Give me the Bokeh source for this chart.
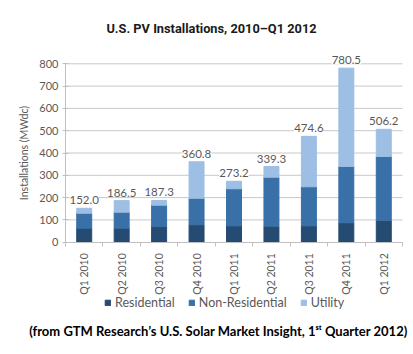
from bokeh.plotting import figure
from bokeh.models import (ColumnDataSource, FixedTicker, LabelSet, Label, Legend, LegendItem, Range1d)
from bokeh.core.properties import value
from bokeh.embed import file_html
from bokeh.resources import INLINE

quarters = ["Q1 2010", "Q2 2010", "Q3 2010", "Q4 2010", "Q1 2011", "Q2 2011", "Q3 2011", "Q4 2011", "Q1 2012"]
residential = [63.0, 63.0, 70.0, 78.0, 73.0, 72.0, 73.0, 87.0, 97.0]
non_residential = [67.0, 71.6, 96.0, 119.0, 166.5, 219.6, 175.5, 252.6, 287.5]
utility = [22.0, 51.9, 21.3, 163.8, 33.7, 47.7, 226.1, 440.9, 121.7]
totals = [152.0, 186.5, 187.3, 360.8, 273.2, 339.3, 474.6, 780.5, 506.2]
y_ticks = [0, 100, 200, 300, 400, 500, 600, 700, 800]
series_names = ["Residential", "Non-Residential", "Utility"]

xs = [i + 0.5 for i in range(len(quarters))]
top2 = [r + n for r, n in zip(residential, non_residential)]
top3 = [t + u for t, u in zip(top2, utility)]

src = ColumnDataSource(dict(x=xs, r=residential, t2=top2, t3=top3,
                            tot=totals, lab=["%.1f" % v for v in totals]))

COLORS = ["#254b73", "#3870a7", "#9dbfe3"]
GRAY = "#595959"

# whole canvas is the frame; data origin sits at (65, 241.7) px from top-left
W, H = 413, 354
X0, X1 = 65.0, 402.0          # px of x = 0 and x = 9
Y0, Y800 = 241.7, 63.3        # px (from top) of y = 0 and y = 800
sx = (X1 - X0) / len(quarters)
sy = (Y0 - Y800) / 800.0

p = figure(width=W, height=H, output_backend="svg", toolbar_location=None,
           x_range=Range1d(-X0 / sx, len(quarters) + (W - X1) / sx),
           y_range=Range1d(-(H - Y0) / sy, Y0 / sy),
           min_border_left=0, min_border_right=0, min_border_top=0, min_border_bottom=0)
p.outline_line_color = None
p.background_fill_color = "white"
p.border_fill_color = "white"
p.xgrid.grid_line_color = None
p.ygrid.grid_line_color = None

# horizontal grid lines limited to the plotting area
grid_src = ColumnDataSource(dict(y=y_ticks[1:], x0=[0] * 8, x1=[len(quarters)] * 8))
p.segment(x0="x0", x1="x1", y0="y", y1="y", color="#c8c8c8", line_width=1, source=grid_src)

r1 = p.vbar(x="x", bottom=0, top="r", width=0.4, color=COLORS[0], source=src)
r2 = p.vbar(x="x", bottom="r", top="t2", width=0.4, color=COLORS[1], source=src)
r3 = p.vbar(x="x", bottom="t2", top="t3", width=0.4, color=COLORS[2], source=src)

# y axis
p.yaxis.fixed_location = 0
p.yaxis.ticker = FixedTicker(ticks=y_ticks)
p.yaxis.bounds = (0, 800)
p.yaxis.axis_line_color = "#bfbfbf"
p.yaxis.major_tick_line_color = "#bfbfbf"
p.yaxis.major_tick_in = 3
p.yaxis.major_tick_out = 3
p.yaxis.minor_tick_line_color = None
p.yaxis.major_label_text_font = "Lato"
p.yaxis.major_label_text_font_size = "11px"
p.yaxis.major_label_text_color = GRAY
p.yaxis.major_label_standoff = 4
p.yaxis.axis_label = "Installations (MWdc)"
p.yaxis.axis_label_text_font = "Lato"
p.yaxis.axis_label_text_font_style = "normal"
p.yaxis.axis_label_text_font_size = "10.5px"
p.yaxis.axis_label_text_color = GRAY
p.yaxis.axis_label_standoff = 6

# x axis
p.xaxis.fixed_location = 0
p.xaxis.bounds = (0, len(quarters))
p.xaxis.ticker = FixedTicker(ticks=xs, minor_ticks=list(range(len(quarters) + 1)))
p.xaxis.major_label_overrides = {x: q for x, q in zip(xs, quarters)}
p.xaxis.major_label_orientation = 3.14159265 / 2
p.xaxis.major_tick_line_color = None
p.xaxis.minor_tick_line_color = "#bfbfbf"
p.xaxis.minor_tick_out = 4
p.xaxis.minor_tick_in = 0
p.xaxis.axis_line_color = "#bfbfbf"
p.xaxis.major_label_text_font = "Lato"
p.xaxis.major_label_text_font_size = "10.5px"
p.xaxis.major_label_text_color = GRAY
p.xaxis.major_label_standoff = 5

labels = LabelSet(x="x", y="tot", text="lab", source=src, y_offset=4,
                  text_align="center", text_baseline="bottom",
                  text_font=value("Lato"), text_font_size="11.5px", text_color=GRAY,
                  background_fill_color="white", border_line_color=None)
p.add_layout(labels)

legend = Legend(items=[LegendItem(label=n, renderers=[r]) for n, r in zip(series_names, [r1, r2, r3])],
                orientation="horizontal", location=(104, 44),
                glyph_width=7, glyph_height=7, label_text_font="Lato",
                label_text_font_size="12.5px", label_text_color=GRAY,
                label_standoff=4, spacing=13, padding=0, margin=0, label_height=7,
                border_line_color=None, background_fill_alpha=0)
p.add_layout(legend, "center")

title = Label(x=211, y=H - 28, x_units="screen", y_units="screen",
              text="U.S. PV Installations, 2010\u2013Q1 2012",
              text_align="center", text_baseline="middle",
              text_font="Roboto", text_font_style="bold", text_font_size="12.8px",
              text_color="#1a1a1a")
p.add_layout(title)

foot = Label(x=218, y=H - 330, x_units="screen", y_units="screen",
             text="(from GTM Research\u2019s U.S. Solar Market Insight, 1\u02e2\u1d57 Quarter 2012)",
             text_align="center", text_baseline="middle",
             text_font="Lato", text_font_style="bold", text_font_size="13px",
             text_color="#000000")
p.add_layout(foot)

open("out.html", "w").write(file_html(p, INLINE))
